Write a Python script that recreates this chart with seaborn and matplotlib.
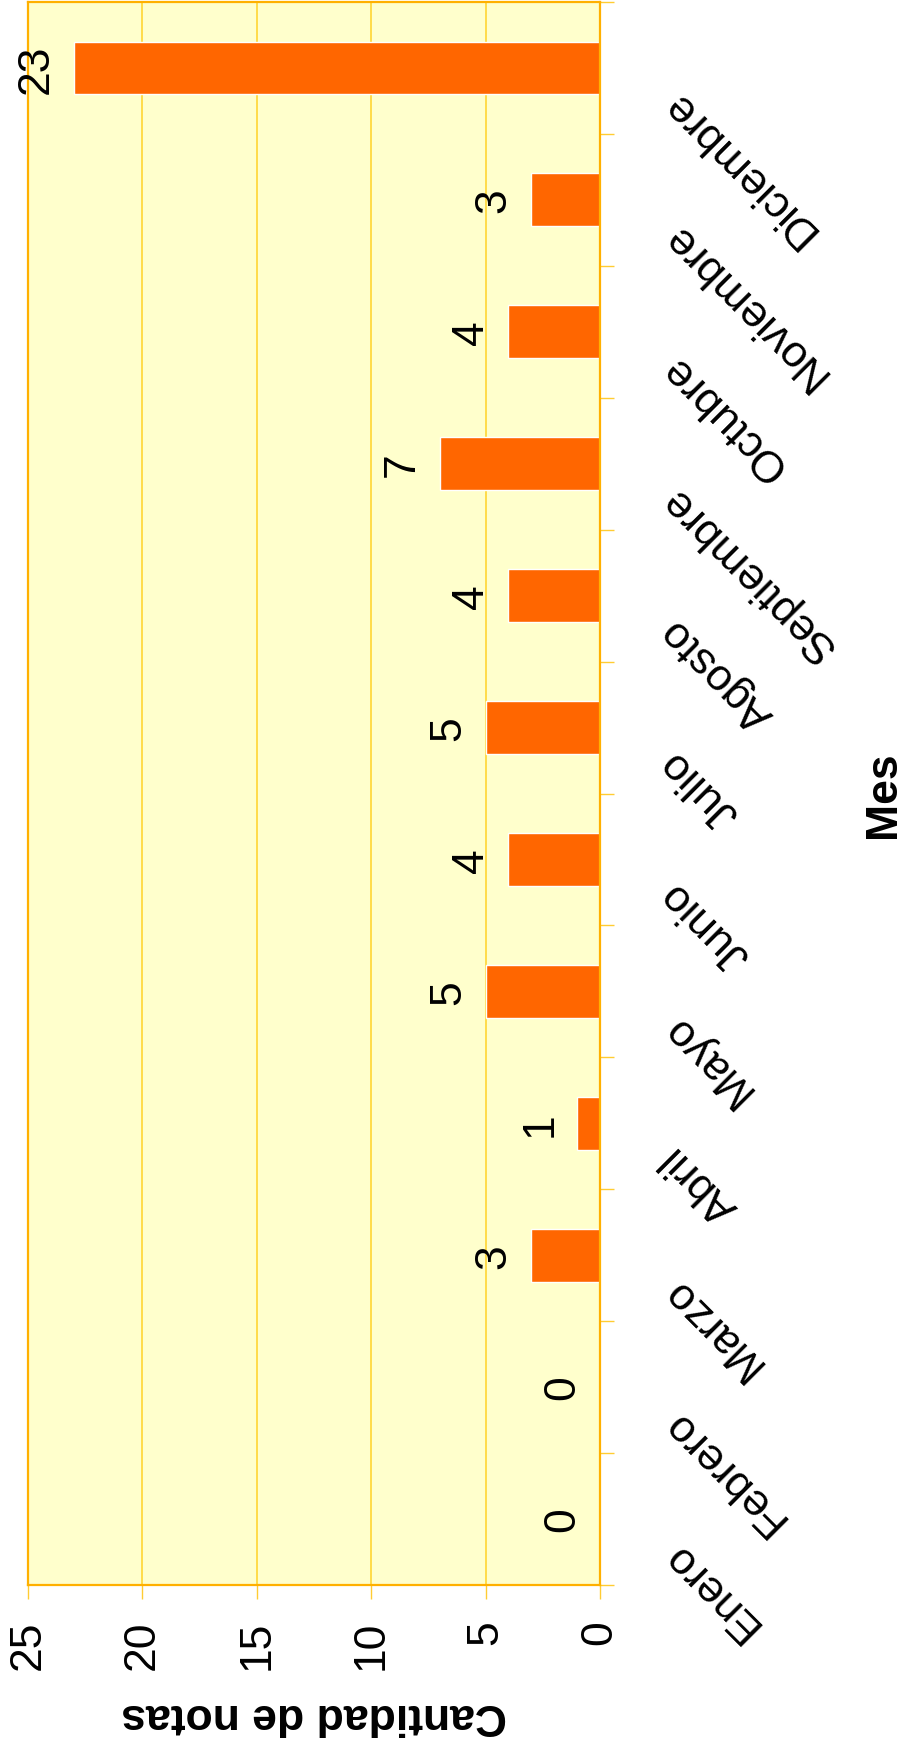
import numpy as np
import pandas as pd
import matplotlib
matplotlib.use('Agg')
import matplotlib.pyplot as plt
import matplotlib.transforms as mtransforms
import seaborn as sns

# datos
meses = ['Enero', 'Febrero', 'Marzo', 'Abril', 'Mayo', 'Junio', 'Julio',
         'Agosto', 'Septiembre', 'Octubre', 'Noviembre', 'Diciembre']
notas = [0, 0, 3, 1, 5, 4, 5, 4, 7, 4, 3, 23]
ticks_valor = [0, 5, 10, 15, 20, 25]

sns.set_theme(style="white")
plt.rcParams['font.family'] = ['Liberation Sans', 'DejaVu Sans']
plt.rcParams['text.color'] = 'black'
plt.rcParams['axes.labelcolor'] = 'black'
plt.rcParams['xtick.labelcolor'] = 'black'
plt.rcParams['ytick.labelcolor'] = 'black'

df = pd.DataFrame({'Mes': meses, 'Notas': notas})

fig = plt.figure(figsize=(9.11, 17.56), dpi=100)
fig.patch.set_facecolor('white')
ax = fig.add_axes([28 / 911, 170 / 1756, 572 / 911, 1583 / 1756])

sns.barplot(data=df, x='Notas', y='Mes', order=meses, orient='h',
            color='#FF6600', saturation=1, width=0.4, ax=ax)

ax.set_xlim(25, 0)
ax.set_ylim(-0.5, 11.5)
ax.set_facecolor('#FFFFCC')
ax.set_axisbelow(True)
ax.xaxis.grid(True, color='#FFD633', lw=1.2)
ax.yaxis.grid(False)
for s in ax.spines.values():
    s.set_visible(True)
    s.set_color('#FFB000')
    s.set_linewidth(1.6)

# eje de valores (abajo)
ax.set_xticks(ticks_valor)
ax.set_xticklabels([str(t) for t in ticks_valor])
ax.tick_params(axis='x', which='major', bottom=True, direction='out', length=10,
               width=1, color='#FFCC33', pad=15, labelsize=32, labelrotation=90,
               labelcolor='black')

# eje de meses (derecha)
ax.yaxis.tick_right()
ax.set_yticks(range(len(meses)))
ax.set_yticklabels(meses, rotation=135, ha='right', va='center', rotation_mode='anchor')
ax.set_yticks(np.arange(-0.5, len(meses), 1), minor=True)
ax.tick_params(axis='y', which='major', length=0, pad=49, labelsize=32, labelcolor='black')
ax.tick_params(axis='y', which='minor', right=True, left=False, direction='out',
               length=10, width=1, color='#FFCC33')
offset = mtransforms.ScaledTranslation(0, -0.28, fig.dpi_scale_trans)
for lbl in ax.get_yticklabels():
    lbl.set_transform(lbl.get_transform() + offset)

# etiquetas de valor
for i, v in enumerate(notas):
    ax.annotate(str(v), xy=(v, i), xytext=(-12, 0), textcoords='offset points',
                rotation=90, ha='right', va='center', fontsize=32, color='black')

ax.set_xlabel('Cantidad de notas', fontsize=32, fontweight='bold', rotation=180,
              labelpad=18, color='black')
ax.set_ylabel('Mes', fontsize=32, fontweight='bold', rotation=90, color='black')
ax.yaxis.set_label_position('right')
ax.yaxis.set_label_coords(1.46, 0.5)

fig.savefig('out.png', dpi=100)
plt.close()
